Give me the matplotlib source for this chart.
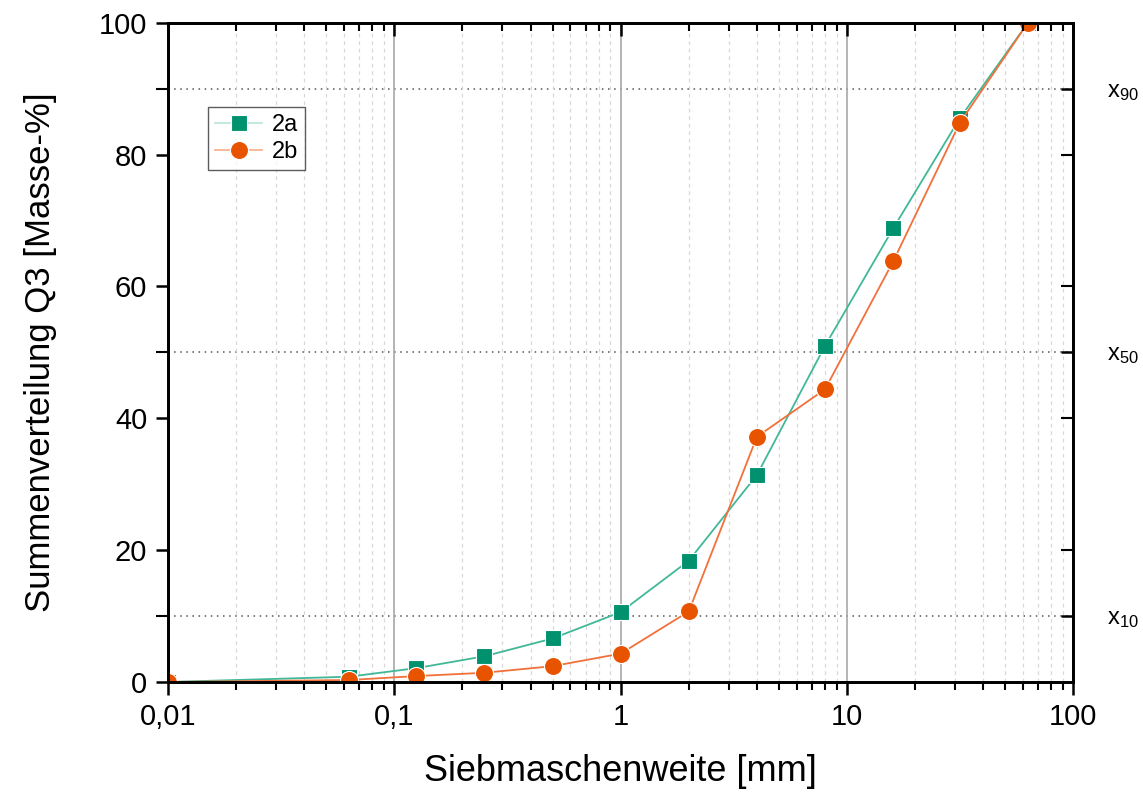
import matplotlib
matplotlib.use("Agg")
import matplotlib.pyplot as plt
from matplotlib.ticker import LogLocator, FixedLocator, NullFormatter

plt.rcParams['font.family'] = ['Liberation Sans', 'DejaVu Sans']
plt.rcParams['mathtext.fontset'] = 'custom'
plt.rcParams['mathtext.rm'] = 'Liberation Sans'
plt.rcParams['mathtext.it'] = 'Liberation Sans'

# -------- Data --------
sieve_mm = [0.01, 0.063, 0.125, 0.25, 0.5, 1, 2, 4, 8, 16, 31.5, 63]
q3_2a = [0.0, 0.8, 2.1, 3.9, 6.6, 10.6, 18.4, 31.4, 51.0, 68.8, 85.5, 100.0]
q3_2b = [0.0, 0.3, 0.9, 1.4, 2.4, 4.3, 10.7, 37.2, 44.4, 63.8, 84.8, 100.0]
x_ticks = [0.01, 0.1, 1, 10, 100]
x_tick_labels = ["0,01", "0,1", "1", "10", "100"]
ref_levels = [10, 50, 90]
ref_labels = [r"x$_{10}$", r"x$_{50}$", r"x$_{90}$"]

# -------- Figure --------
fig = plt.figure(figsize=(11.43, 8), dpi=100)
ax = fig.add_axes([0.147, 0.1475, 0.792, 0.824])

ax.set_xscale("log")
ax.set_xlim(0.01, 100)
ax.set_ylim(0, 100)

# grid
ax.grid(True, which="major", axis="x", color="#a8a8a8", lw=1.2, ls="-")
ax.grid(True, which="minor", axis="x", color="#d8d8d8", lw=0.9, ls=(0, (3, 3)))
for lvl in ref_levels:
    ax.axhline(lvl, color="#555555", lw=1.1, ls=(0, (1, 3)), zorder=1)

# series
ax.plot(sieve_mm, q3_2a, color="#40b898", lw=1.3, marker="s", ms=11,
        mfc="#00916f", mec="white", mew=0.8, label="2a", zorder=3)
ax.plot(sieve_mm, q3_2b, color="#f2703a", lw=1.3, marker="o", ms=13,
        mfc="#e85300", mec="white", mew=0.8, label="2b", zorder=4)

# bottom / left axis
ax.set_xticks(x_ticks)
ax.set_xticklabels(x_tick_labels)
ax.xaxis.set_minor_locator(LogLocator(base=10, subs=range(2, 10)))
ax.xaxis.set_minor_formatter(NullFormatter())
ax.set_yticks([0, 20, 40, 60, 80, 100])
ax.yaxis.set_minor_locator(FixedLocator(ref_levels))
ax.tick_params(axis="both", which="major", direction="out", length=9, width=1.8,
               labelsize=21, pad=6)
ax.tick_params(axis="x", which="minor", direction="out", length=6, width=1.5)
ax.tick_params(axis="y", which="minor", direction="out", length=9, width=1.5)
for sp in ax.spines.values():
    sp.set_linewidth(1.8)

ax.set_xlabel("Siebmaschenweite [mm]", fontsize=26, labelpad=17)
ax.set_ylabel("Summenverteilung Q3 [Masse-%]", fontsize=25, labelpad=30)

# top axis: inward ticks, no labels
axt = ax.twiny()
axt.set_xscale("log")
axt.set_xlim(ax.get_xlim())
axt.set_xticks(x_ticks)
axt.xaxis.set_minor_locator(LogLocator(base=10, subs=range(2, 10)))
axt.tick_params(axis="x", which="major", direction="in", length=9, width=1.8, labeltop=False)
axt.tick_params(axis="x", which="minor", direction="in", length=6, width=1.5)
axt.xaxis.set_major_formatter(NullFormatter())
axt.xaxis.set_minor_formatter(NullFormatter())

# right axis: inward ticks, labels x10 / x50 / x90
axr = ax.twinx()
axr.set_ylim(ax.get_ylim())
axr.set_yticks(ref_levels)
axr.set_yticklabels(ref_labels)
axr.yaxis.set_minor_locator(FixedLocator([20, 40, 60, 80]))
axr.tick_params(axis="y", which="major", direction="in", length=9, width=1.8,
                labelsize=17, pad=24)
axr.tick_params(axis="y", which="minor", direction="in", length=9, width=1.5)
for a in (axt, axr):
    for sp in a.spines.values():
        sp.set_linewidth(1.8)

leg = ax.legend(loc="upper left", bbox_to_anchor=(0.044, 0.872), fontsize=17,
                frameon=True, fancybox=False, edgecolor="#333333",
                handlelength=2.0, borderpad=0.3, labelspacing=0.2,
                handletextpad=0.4, borderaxespad=0)
leg.get_frame().set_linewidth(1.0)
leg.get_lines()[0].set_color("#bfe6da")
leg.get_lines()[0].set_markerfacecolor("#00916f")
leg.get_lines()[1].set_color("#f8b393")
leg.get_lines()[1].set_markerfacecolor("#e85300")

fig.savefig("out.png", dpi=100)
